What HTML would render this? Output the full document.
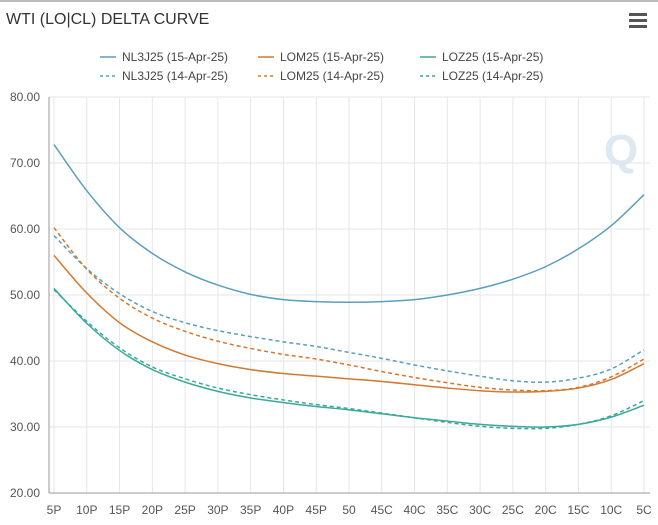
<!DOCTYPE html>
<html><head><meta charset="utf-8"><style>
body{margin:0;background:#fff;font-family:"Liberation Sans",sans-serif;}
#wrap{position:relative;width:658px;height:525px;overflow:hidden;border-top:2px solid #bbb;box-sizing:border-box;}
</style></head><body>
<div id="wrap">
<svg id="chart" width="658" height="523" viewBox="0 2 658 523">
<text x="6" y="24" font-size="16" fill="#333">WTI (LO|CL) DELTA CURVE</text>
<g fill="#555">
<rect x="629" y="13" width="18" height="3"/><rect x="629" y="19" width="18" height="3"/><rect x="629" y="25" width="18" height="3"/>
</g>
<g id="grid"></g><g id="series"></g><g id="legend"></g>
</svg>
</div>
<script>
const categories=["5P","10P","15P","20P","25P","30P","35P","40P","45P","50","45C","40C","35C","30C","25C","20C","15C","10C","5C"];
const yTicks=[20,30,40,50,60,70,80];
const nl3j25Today=[72.8,65.8,60.2,56.3,53.5,51.5,50.1,49.3,49.0,48.9,49.0,49.3,50.0,51.0,52.4,54.3,57.0,60.5,65.2];
const nl3j25Prev=[59.0,54.0,50.2,47.5,45.8,44.6,43.7,42.9,42.2,41.3,40.4,39.4,38.5,37.7,37.0,36.8,37.4,38.8,41.7];
const lom25Today=[56.0,50.3,45.8,42.9,40.9,39.6,38.7,38.1,37.7,37.3,36.9,36.4,35.9,35.5,35.3,35.4,35.9,37.2,39.6];
const lom25Prev=[60.2,53.9,49.5,46.5,44.5,43.0,41.9,41.0,40.3,39.4,38.4,37.5,36.7,36.0,35.6,35.5,36.0,37.6,40.3];
const loz25Today=[51.0,45.7,41.6,38.7,36.8,35.4,34.4,33.7,33.1,32.6,32.0,31.4,30.9,30.4,30.1,30.0,30.4,31.5,33.3];
const loz25Prev=[50.8,46.0,42.0,39.1,37.3,35.9,34.9,34.1,33.4,32.8,32.1,31.4,30.7,30.1,29.8,29.8,30.4,31.7,34.0];
const seriesNames=["NL3J25 (15-Apr-25)","LOM25 (15-Apr-25)","LOZ25 (15-Apr-25)","NL3J25 (14-Apr-25)","LOM25 (14-Apr-25)","LOZ25 (14-Apr-25)"];

const NS="http://www.w3.org/2000/svg";
const X0=49,X1=650,Y20=493,Y80=97;
const xPos=i=>54+i*(590/(categories.length-1));
const yPos=v=>Y20-(v-20)*(Y20-Y80)/60;
function mk(tag,attrs,parent){const e=document.createElementNS(NS,tag);for(const k in attrs)e.setAttribute(k,attrs[k]);parent.appendChild(e);return e;}
const grid=document.getElementById('grid');
yTicks.forEach(t=>{
  const l=mk('line',{x1:X0,x2:X1,y1:yPos(t),y2:yPos(t),stroke:'#e6e6e6'},grid);
  
  
  const tx=mk('text',{x:40,y:yPos(t)+4,'text-anchor':'end','font-size':12,fill:'#555'},grid);
  tx.textContent=t.toFixed(2);
  
  
});
categories.forEach((c,i)=>{
  const l=mk('line',{x1:xPos(i),x2:xPos(i),y1:Y80,y2:Y20,stroke:'#e6e6e6'},grid);
  
  
  const tx=mk('text',{x:xPos(i),y:514,'text-anchor':'middle','font-size':12,fill:'#555'},grid);
  tx.textContent=c;
  
  
});
const ax=mk('line',{x1:X0,x2:X0,y1:Y80,y2:Y20,stroke:'#999'},grid);


const bx=mk('line',{x1:X0,x2:X1,y1:Y20,y2:Y20,stroke:'#999'},grid);


const wm=mk('text',{x:604,y:165,'font-size':44,'font-weight':'bold',fill:'#dde8f0'},grid);
wm.textContent='Q';



function smooth(vals){
  const p=vals.map((v,i)=>[xPos(i),yPos(v)]);
  let d=`M${p[0][0]},${p[0][1]}`;
  for(let i=0;i<p.length-1;i++){
    const p0=p[i-1]||p[i],p1=p[i],p2=p[i+1],p3=p[i+2]||p2;
    const c1=[p1[0]+(p2[0]-p0[0])/6,p1[1]+(p2[1]-p0[1])/6];
    const c2=[p2[0]-(p3[0]-p1[0])/6,p2[1]-(p3[1]-p1[1])/6];
    d+=` C${c1[0]},${c1[1]} ${c2[0]},${c2[1]} ${p2[0]},${p2[1]}`;
  }
  return d;
}
const colors=["#5a9ec0","#d4782f","#3aa99a"];
const data=[nl3j25Today,lom25Today,loz25Today,nl3j25Prev,lom25Prev,loz25Prev];
const slugs=["nl3j25-15apr","lom25-15apr","loz25-15apr","nl3j25-14apr","lom25-14apr","loz25-14apr"];
const sg=document.getElementById('series');
data.forEach((vals,k)=>{
  const p=mk('path',{d:smooth(vals),fill:'none',stroke:colors[k%3],'stroke-width':1.5,'stroke-dasharray':k>=3?'4,3':'none'},sg);
  
  
});
const lg=document.getElementById('legend');
const lx=[100,258,420];
seriesNames.forEach((n,k)=>{
  const x=lx[k%3],y=k<3?57:76;
  const g=mk('g',{},lg);
  
  
  mk('line',{x1:x,x2:x+16,y1:y,y2:y,stroke:colors[k%3],'stroke-width':1.5,'stroke-dasharray':k>=3?'3,3':'none'},g);
  const t=mk('text',{x:x+22,y:y+4,'font-size':12,fill:'#444'},g);
  t.textContent=n;
});
</script>
</body></html>
